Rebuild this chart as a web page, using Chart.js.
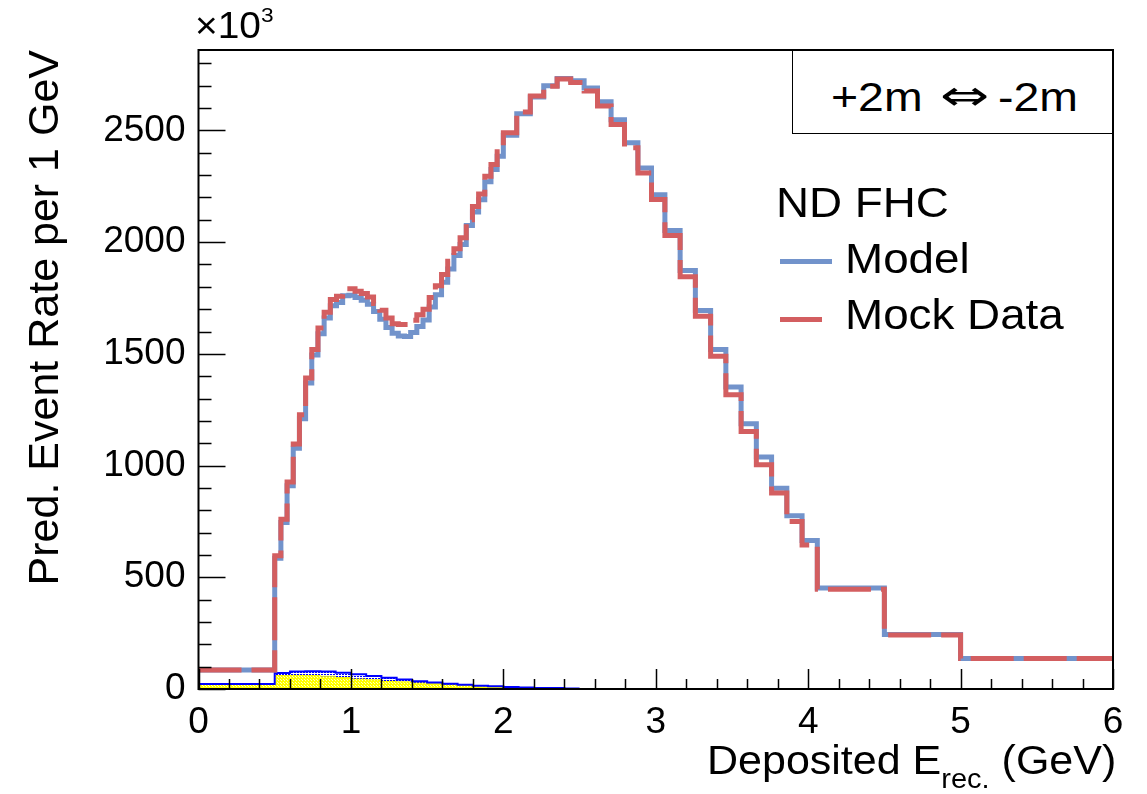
<!DOCTYPE html>
<html>
<head>
<meta charset="utf-8">
<script src="https://cdn.jsdelivr.net/npm/chart.js@4.4.1/dist/chart.umd.min.js"></script>
<style>
  html, body { margin: 0; padding: 0; background: #fff; }
  #wrap { position: relative; width: 1147px; height: 794px; overflow: hidden; }
  canvas { position: absolute; left: 0; top: 0; }
  .t { position: absolute; font-family: "Liberation Sans", Arial, sans-serif; color: #000; white-space: nowrap; transform-origin: 0 0; }
  #infobox { position: absolute; left: 792px; top: 50px; width: 320px; height: 84px; border: 1.5px solid #000; border-right: none; background: #fff; box-sizing: border-box; }
  .lg { position: absolute; height: 5px; }
</style>
</head>
<body>
<div id="wrap">
  <canvas id="c" width="1147" height="794"></canvas>
  <div id="infobox"></div>
  <div class="t" style="left:195px; top:8px; font-size:36px; line-height:36px; transform:scaleX(1.08);">×10<sup style="font-size:21px; vertical-align:0; position:relative; top:-16px;">3</sup></div>
  <div class="t" style="left:831px; top:77px; font-size:40px; line-height:40px; transform:scaleX(1.16);">+2m</div>
  <div class="t" style="left:940px; top:75px; font-family:'DejaVu Sans', sans-serif; font-size:42px; line-height:42px; transform:scaleX(1.4);">⇔</div>
  <div class="t" style="left:998px; top:77px; font-size:40px; line-height:40px; transform:scaleX(1.16);">-2m</div>
  <div class="t" style="left:776px; top:182px; font-size:42px; line-height:42px; transform:scaleX(1.09);">ND FHC</div>
  <div class="lg" style="left:780px; top:259px; width:52px; background:#7293CB;"></div>
  <div class="t" style="left:845px; top:238px; font-size:42px; line-height:42px; transform:scaleX(1.09);">Model</div>
  <div class="lg" style="left:780px; top:317px; width:42px; background:#D35E60;"></div>
  <div class="t" style="left:845px; top:294px; font-size:42px; line-height:42px; transform:scaleX(1.09);">Mock Data</div>
  <div class="t" style="left:707px; top:740px; font-size:40px; line-height:40px; transform:scaleX(1.075);">Deposited E<sub style="font-size:27px; vertical-align:0; position:relative; top:14px;">rec.</sub> (GeV)</div>
</div>
<script>
// ---------------- data ----------------
const binEdges = [0, 0.5,
  0.5405, 0.5811, 0.6216, 0.6622, 0.7027, 0.7432, 0.7838, 0.8243, 0.8649, 0.9054,
  0.9459, 0.9865, 1.0270, 1.0676, 1.1081, 1.1486, 1.1892, 1.2297, 1.2703, 1.3108,
  1.3514, 1.3919, 1.4324, 1.4730, 1.5135, 1.5541, 1.5946, 1.6351, 1.6757, 1.7162,
  1.7568, 1.7973, 1.8378, 1.8784, 1.9189, 1.9595, 2.0,
  2.088, 2.177, 2.265, 2.353, 2.442, 2.530, 2.618, 2.707, 2.795, 2.883, 2.972, 3.06,
  3.16, 3.26, 3.36, 3.46, 3.56, 3.66, 3.76, 3.86, 3.96, 4.06,
  4.5, 5.0, 6.0];

const mockData = [85,
  596, 760, 926, 1096, 1228, 1392, 1519, 1616, 1686, 1743,
  1758, 1791, 1791, 1780, 1770, 1755, 1725, 1695, 1660, 1635,
  1631, 1631, 1650, 1675, 1700, 1752, 1805, 1855, 1915, 1970,
  2020, 2100, 2160, 2215, 2295, 2348, 2405,
  2490, 2583, 2654, 2698, 2730, 2714, 2676, 2609, 2527, 2422, 2310, 2191,
  2030, 1845, 1668, 1489, 1317, 1153, 1004, 877, 750, 645,
  447, 242, 137];

const model = [85,
  585, 745, 910, 1078, 1210, 1370, 1495, 1590, 1660, 1715,
  1730, 1760, 1762, 1752, 1740, 1722, 1690, 1655, 1618, 1592,
  1580, 1578, 1596, 1622, 1652, 1710, 1765, 1820, 1880, 1940,
  1990, 2075, 2135, 2190, 2270, 2325, 2385,
  2478, 2575, 2650, 2700, 2732, 2722, 2690, 2628, 2548, 2445, 2332, 2212,
  2052, 1873, 1694, 1519, 1352, 1187, 1038, 899, 775, 665,
  452, 244, 137];

const smallEdges = [0, 0.5, 0.6, 0.7, 0.8, 0.9, 1.0, 1.1, 1.2, 1.3, 1.4, 1.5,
  1.6, 1.7, 1.8, 1.9, 2.0, 2.1, 2.2, 2.3, 2.4, 2.5];
const yellowComp = [22, 60, 62, 60, 57, 52, 46, 41, 36, 32, 28, 24, 20, 17, 14, 12, 9, 7, 5, 4, 2];
const blueStackTop = [22, 72, 78, 80, 78, 73, 66, 58, 50, 42, 35, 29, 24, 19, 15, 12, 9, 7, 5, 4, 2];

const xTicks = [0, 1, 2, 3, 4, 5, 6];
const yTicks = [0, 500, 1000, 1500, 2000, 2500];
const Y_MAX = 2860;

// ---------------- helpers ----------------
function histPoints(edges, vals) {
  const pts = vals.map((v, i) => ({ x: edges[i], y: v }));
  pts.push({ x: edges[edges.length - 1], y: vals[vals.length - 1] });
  return pts;
}
function makePattern(w, h, bg, dots, dotColor) {
  const c = document.createElement('canvas');
  c.width = w; c.height = h;
  const g = c.getContext('2d');
  if (bg) { g.fillStyle = bg; g.fillRect(0, 0, w, h); }
  g.fillStyle = dotColor;
  dots.forEach(([x, y]) => g.fillRect(x, y, 1, 1));
  return g.createPattern(c, 'repeat');
}
const ctx = document.getElementById('c').getContext('2d');
const yellowPat = makePattern(3, 3, '#ffff00', [[1, 1], [2, 2]], '#ffffc0');
const bluePat = makePattern(3, 2, null, [[0, 0], [1, 0]], '#0000ff');

const FONT = '"Liberation Sans", Arial, sans-serif';

// ROOT-like inward ticks and frame
const frameTicks = {
  id: 'frameTicks',
  afterDraw(chart) {
    const { ctx, chartArea: a, scales: { x, y } } = chart;
    ctx.save();
    ctx.strokeStyle = '#000';
    ctx.lineWidth = 1.5;
    ctx.beginPath();
    for (let v = 0; v <= Y_MAX; v += 100) {
      const py = Math.round(y.getPixelForValue(v)) + 0.5;
      const len = (v % 500 === 0) ? 27 : 13;
      ctx.moveTo(a.left, py); ctx.lineTo(a.left + len, py);
    }
    for (let k = 0; k <= 30; k++) {
      const xv = k * 0.2;
      const px = Math.round(x.getPixelForValue(xv)) + 0.5;
      const len = (k % 5 === 0) ? 20 : 10;
      ctx.moveTo(px, a.bottom); ctx.lineTo(px, a.bottom - len);
    }
    ctx.stroke();
    ctx.lineWidth = 2;
    ctx.strokeRect(a.left, a.top, a.right - a.left, a.bottom - a.top);
    ctx.restore();
  }
};

new Chart(ctx, {
  type: 'line',
  data: {
    datasets: [
      { label: 'Mock Data', data: histPoints(binEdges, mockData), stepped: 'before',
        borderColor: '#D35E60', borderWidth: 5, borderDash: [43, 10], borderCapStyle: 'butt',
        borderJoinStyle: 'miter', pointRadius: 0, fill: false, order: 0 },
      { label: 'Model', data: histPoints(binEdges, model), stepped: 'before',
        borderColor: '#7293CB', borderWidth: 5, borderCapStyle: 'butt', borderJoinStyle: 'miter',
        pointRadius: 0, fill: false, order: 1 },
      { label: 'blue comp', data: histPoints(smallEdges, blueStackTop), stepped: 'before',
        borderColor: '#0000ff', borderWidth: 2, pointRadius: 0, fill: { target: 3 },
        backgroundColor: bluePat, order: 2 },
      { label: 'yellow comp', data: histPoints(smallEdges, yellowComp), stepped: 'before',
        borderColor: '#f0f000', borderWidth: 1, pointRadius: 0, fill: 'origin',
        backgroundColor: yellowPat, order: 3 }
    ]
  },
  options: {
    responsive: false,
    animation: false,
    events: [],
    layout: { padding: { left: 0, right: 34, top: 50, bottom: 0 } },
    plugins: { legend: { display: false }, tooltip: { enabled: false } },
    scales: {
      x: {
        type: 'linear', min: 0, max: 6,
        afterFit(s) { s.height = 105; },
        afterBuildTicks(s) { s.ticks = xTicks.map(v => ({ value: v })); },
        grid: { display: false, drawTicks: false },
        border: { display: false },
        ticks: { color: '#000', font: { family: FONT, size: 37 }, padding: 12, maxRotation: 0,
                 callback: v => String(v) }
      },
      y: {
        type: 'linear', min: 0, max: Y_MAX,
        afterFit(s) { s.width = 198.5; },
        afterBuildTicks(s) { s.ticks = yTicks.map(v => ({ value: v })); },
        grid: { display: false, drawTicks: false },
        border: { display: false },
        title: { display: true, text: 'Pred. Event Rate per 1 GeV', align: 'end', color: '#000',
                 font: { family: FONT, size: 43 }, padding: { top: 20, bottom: 0 } },
        ticks: { color: '#000', font: { family: FONT, size: 37 }, padding: 13,
                 callback: v => String(v) }
      }
    }
  },
  plugins: [frameTicks]
});
</script>
</body>
</html>
